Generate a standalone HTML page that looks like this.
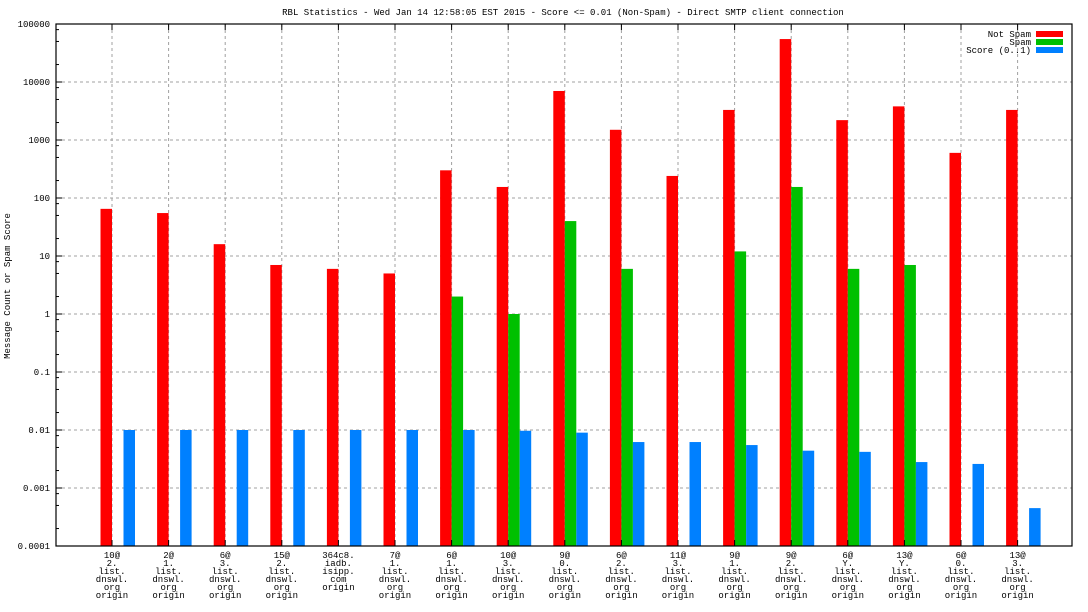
<!DOCTYPE html>
<html><head><meta charset="utf-8"><style>
body{margin:0;background:#fff}
svg{display:block}
text{font-family:"Liberation Mono","DejaVu Sans Mono",monospace;font-size:9px;fill:#000}
</style></head><body>
<svg id="chart" width="1088" height="612" xmlns="http://www.w3.org/2000/svg">
<text x="563" y="15" text-anchor="middle">RBL Statistics - Wed Jan 14 12:58:05 EST 2015 - Score &lt;= 0.01 (Non-Spam) - Direct SMTP client connection</text>
<text transform="translate(10,286) rotate(-90)" text-anchor="middle">Message Count or Spam Score</text>
<g id="grid"></g><g id="bars"></g><g id="axes"></g>
<g>
<text x="1031" y="37" text-anchor="end">Not Spam</text>
<rect x="1036" y="31" width="27" height="6" fill="#ff0000"/>
<text x="1031" y="45" text-anchor="end">Spam</text>
<rect x="1036" y="39" width="27" height="6" fill="#00c000"/>
<text x="1031" y="53" text-anchor="end">Score (0..1)</text>
<rect x="1036" y="47" width="27" height="6" fill="#0080ff"/>
</g>
</svg>
<script>
const categories=[["10@","2.","list.","dnswl.","org","origin"],["2@","1.","list.","dnswl.","org","origin"],["6@","3.","list.","dnswl.","org","origin"],["15@","2.","list.","dnswl.","org","origin"],["364c8.","iadb.","isipp.","com","origin"],["7@","1.","list.","dnswl.","org","origin"],["6@","1.","list.","dnswl.","org","origin"],["10@","3.","list.","dnswl.","org","origin"],["9@","0.","list.","dnswl.","org","origin"],["6@","2.","list.","dnswl.","org","origin"],["11@","3.","list.","dnswl.","org","origin"],["9@","1.","list.","dnswl.","org","origin"],["9@","2.","list.","dnswl.","org","origin"],["6@","Y.","list.","dnswl.","org","origin"],["13@","Y.","list.","dnswl.","org","origin"],["6@","0.","list.","dnswl.","org","origin"],["13@","3.","list.","dnswl.","org","origin"]];
const notSpam=[65,55,16,7,6,5,300,155,7000,1500,240,3300,55000,2200,3800,600,3300];
const spam=[null,null,null,null,null,null,2,1,40,6,null,12,155,6,7,null,null];
const score=[0.01,0.01,0.01,0.01,0.01,0.01,0.01,0.0097,0.009,0.0062,0.0062,0.0055,0.0044,0.0042,0.0028,0.0026,0.00045];
const yTicks=["0.0001","0.001","0.01","0.1","1","10","100","1000","10000","100000"];
const NS="http://www.w3.org/2000/svg";
const L=56,R=1072,T=24,B=546;
const yMin=-4,yMax=5;
function y(v){return B-(Math.log10(v)-yMin)/(yMax-yMin)*(B-T);}
function x(i){return 112+i*56.6;}
function mk(tag,attrs,parent){const e=document.createElementNS(NS,tag);for(const k in attrs)e.setAttribute(k,attrs[k]);parent.appendChild(e);return e;}
const grid=document.getElementById('grid'),bars=document.getElementById('bars'),axes=document.getElementById('axes');
yTicks.forEach((t,i)=>{const v=parseFloat(t),yy=y(v);
 if(i>0&&i<yTicks.length-1){const g=mk('line',{x1:L,x2:R,y1:yy,y2:yy,stroke:'#a0a0a0','stroke-dasharray':'3,3'},grid);
 
 }
 const tk=mk('line',{x1:L,x2:L+6,y1:yy,y2:yy,stroke:'#000'},axes);
 
 
 const tx=mk('text',{x:L-6,y:yy+3,'text-anchor':'end'},axes);tx.textContent=t;
 
 
 if(i<yTicks.length-1)[2,5,8].forEach(m=>{const my=y(v*m);mk('line',{x1:L,x2:L+3,y1:my,y2:my,stroke:'#000'},axes);});
});
categories.forEach((c,i)=>{const cx=x(i);
 const g=mk('line',{x1:cx,x2:cx,y1:T,y2:B,stroke:'#a0a0a0','stroke-dasharray':'3,3'},grid);
 
 
 mk('line',{x1:cx,x2:cx,y1:T,y2:T+6,stroke:'#000'},axes);
 mk('line',{x1:cx,x2:cx,y1:B,y2:B-6,stroke:'#000'},axes);
 const tx=mk('text',{x:cx,y:558,'text-anchor':'middle'},axes);
 
 
 c.forEach((s,j)=>{const ts=mk('tspan',{x:cx,dy:j?8:0},tx);ts.textContent=s;});
 [[notSpam,'#ff0000',-11.5,'bar-not-spam'],[spam,'#00c000',0,'bar-spam'],[score,'#0080ff',11.5,'bar-score']].forEach(([arr,col,off,nm])=>{
  const v=arr[i];if(v==null)return;const yy=y(v);
  const r=mk('rect',{x:cx+off,y:yy,width:11.5,height:B-yy,fill:col},bars);
  
  
 });
});
const f=mk('rect',{x:L,y:T,width:R-L,height:B-T,fill:'none',stroke:'#000','stroke-width':1.2},axes);


</script>
</body></html>
